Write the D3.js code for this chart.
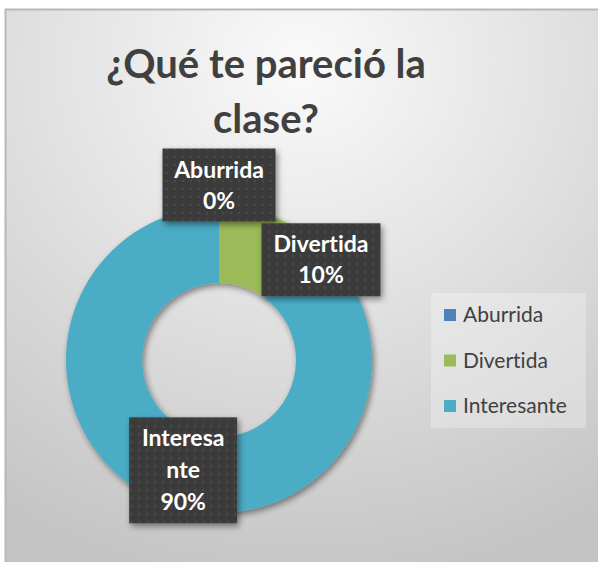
<!DOCTYPE html>
<html>
<head>
<meta charset="utf-8">
<script src="https://cdn.jsdelivr.net/npm/d3@7"></script>
<style>
body{margin:0;background:#fff;}
svg{display:block;}
text{font-variant-ligatures:none;font-feature-settings:"liga" 0;}
</style>
</head>
<body>
<svg id="chart"></svg>
<script>
const W=598,H=562;
const categories=["Aburrida","Divertida","Interesante"];
const values=[0,10,90];
const percentLabels=["0%","10%","90%"];
const colors=["#4F81BD","#9BBB59","#4BACC6"];
const title=["¿Qué te pareció la","clase?"];

const svg=d3.select("#chart").attr("width",W).attr("height",H);
const defs=svg.append("defs");

// fondo
const bg=defs.append("radialGradient").attr("id","bg")
    .attr("cx","50%").attr("cy","10%").attr("r","95%")
    .attr("fx","50%").attr("fy","10%");
bg.append("stop").attr("offset","0%").attr("stop-color","#fafafa");
bg.append("stop").attr("offset","45%").attr("stop-color","#e2e2e2");
bg.append("stop").attr("offset","100%").attr("stop-color","#c4c4c4");

// sombra
const sh=defs.append("filter").attr("id","shadow")
    .attr("x","-20%").attr("y","-20%").attr("width","140%").attr("height","140%");
sh.append("feGaussianBlur").attr("in","SourceAlpha").attr("stdDeviation",3);
sh.append("feOffset").attr("dx",2).attr("dy",3).attr("result","b");
sh.append("feComponentTransfer").append("feFuncA").attr("type","linear").attr("slope",0.45);
const m=sh.append("feMerge");
m.append("feMergeNode");
m.append("feMergeNode").attr("in","SourceGraphic");

// patrón de puntos
const pat=defs.append("pattern").attr("id","dots")
    .attr("width",8).attr("height",8).attr("patternUnits","userSpaceOnUse");
pat.append("rect").attr("width",8).attr("height",8).attr("fill","#3b3b3b");
pat.append("circle").attr("cx",4).attr("cy",4).attr("r",1.3).attr("fill","#4a4a4a");

// marco
const frame={x:5,y:9,w:W-5,h:H-9};
svg.append("rect").attr("x",frame.x).attr("y",frame.y)
    .attr("width",frame.w).attr("height",frame.h).attr("fill","url(#bg)");
svg.append("path")
    .attr("d",`M${frame.x+0.5},${H}V${frame.y+0.5}H${W}`)
    .attr("fill","none").attr("stroke","#b8b8b8").attr("stroke-width",2);

const FONT="Lato, 'Open Sans', sans-serif";

// título
svg.append("text")
    .attr("text-anchor","middle")
    .attr("font-family",FONT)
    .attr("font-weight","bold").attr("font-size",40)
    .attr("fill","#404040")
    .selectAll("tspan").data(title).join("tspan")
    .attr("x",266).attr("y",(d,i)=>78+i*55)
    .text(d=>d);

// donut
const cx=219,cy=360,outerR=153,innerR=77;
const pie=d3.pie().sort(null).value(d=>d.v);
const arcs=pie(categories.map((c,i)=>({c,v:values[i],i})));
const arc=d3.arc().innerRadius(innerR).outerRadius(outerR);
const g=svg.append("g").attr("transform",`translate(${cx},${cy})`);
g.append("g").attr("filter","url(#shadow)")
    .selectAll("path").data(arcs).join("path")
    .attr("d",arc).attr("fill",d=>colors[d.data.i]);

// etiquetas
const labelLayout=[
    {r:175,da:0,w:113,h:73},
    {r:143,da:0.48,w:119,h:73},
    {r:116,da:0,w:108,h:106}
];
arcs.forEach((d,i)=>{
    const lay=labelLayout[i];
    const a=(d.startAngle+d.endAngle)/2+lay.da;
    const x=Math.sin(a)*lay.r, y=-Math.cos(a)*lay.r;
    const lg=g.append("g").attr("transform",`translate(${x},${y})`);
    lg.append("rect").attr("x",-lay.w/2).attr("y",-lay.h/2)
        .attr("width",lay.w).attr("height",lay.h)
        .attr("fill","url(#dots)").attr("filter","url(#shadow)");
    const t=lg.append("text").attr("text-anchor","middle")
        .attr("font-family",FONT).attr("font-weight","bold")
        .attr("font-size",23).attr("fill","#fff");
    // partir la palabra si no cabe
    const lines=[];
    let cur="";
    const probe=t.append("tspan");
    for(const ch of d.data.c){
        probe.text(cur+ch);
        if(probe.node().getComputedTextLength()>lay.w-16&&cur){
            lines.push(cur);cur=ch;
        }else cur+=ch;
    }
    lines.push(cur);
    probe.remove();
    lines.push(percentLabels[i]);
    const lh=lines.length>2?32:31;
    t.selectAll("tspan").data(lines).join("tspan")
        .attr("x",0)
        .attr("y",(l,j)=>(j-(lines.length-1)/2)*lh+8)
        .text(l=>l);
});

// leyenda
const legend=svg.append("g");
legend.append("rect").attr("x",431).attr("y",293).attr("width",155).attr("height",135)
    .attr("fill","#fff").attr("fill-opacity",0.28);
const item=legend.selectAll("g").data(categories).join("g")
    .attr("transform",(d,i)=>`translate(444,${315+i*45.5})`);
item.append("rect").attr("x",0).attr("y",-6).attr("width",12).attr("height",12)
    .attr("fill",(d,i)=>colors[i]);
item.append("text").attr("x",19).attr("y",7)
    .attr("font-family",FONT).attr("font-size",21).attr("fill","#404040")
    .text(d=>d);
</script>
</body>
</html>
